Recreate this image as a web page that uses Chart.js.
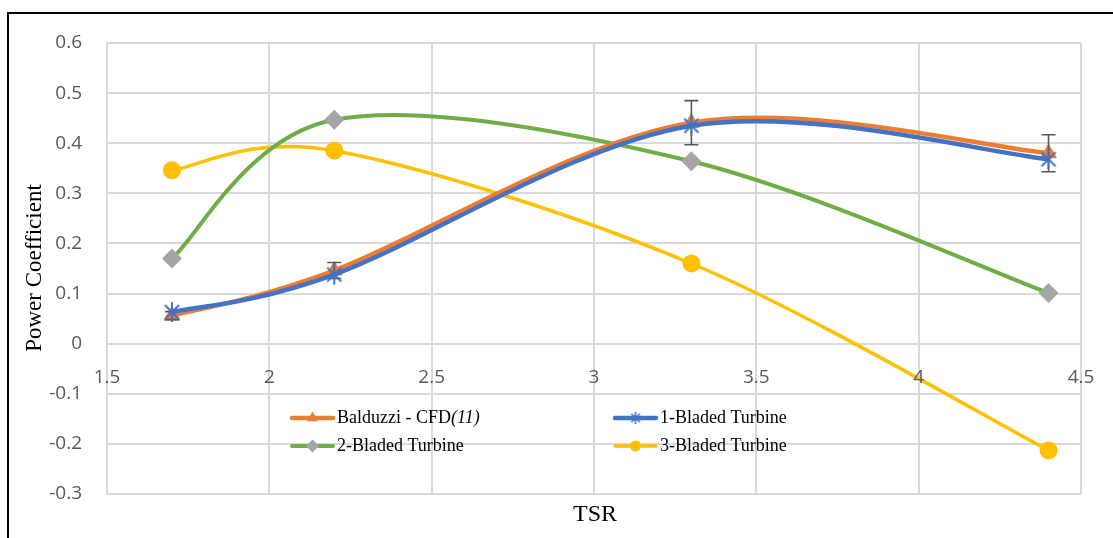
<!DOCTYPE html>
<html>
<head>
<meta charset="utf-8">
<script src="https://cdn.jsdelivr.net/npm/chart.js@4/dist/chart.umd.min.js"></script>
<style>
  html, body { margin: 0; padding: 0; background: #ffffff; }
  #wrap { width: 1113px; height: 538px; position: relative; }
</style>
</head>
<body>
<div id="wrap"><canvas id="c" width="1113" height="538"></canvas></div>
<script>
// Tip speed ratio at which each turbine was evaluated
const tsr = [1.7, 2.2, 3.3, 4.4];

// Power coefficient per series
const balduzziCfd = [0.056, 0.146, 0.441, 0.380];
const oneBladed   = [0.063, 0.138, 0.435, 0.368];
const twoBladed   = [0.170, 0.447, 0.364, 0.101];
const threeBladed = [0.346, 0.385, 0.160, -0.213];

// Symmetric error on the Balduzzi CFD reference values
const balduzziErr = [0.008, 0.016, 0.044, 0.037];

// Axis tick values
const xTicks = [1.5, 2, 2.5, 3, 3.5, 4, 4.5];
const yTicks = [-0.3, -0.2, -0.1, 0, 0.1, 0.2, 0.3, 0.4, 0.5, 0.6];

const seriesLabels = ['Balduzzi - CFD(11)', '1-Bladed Turbine', '2-Bladed Turbine', '3-Bladed Turbine'];
const axisTitleX = 'TSR';
const axisTitleY = 'Power Coefficient';

const COLORS = {
  orange: '#ed7d31',
  blue: '#4472c4',
  green: '#70ad47',
  grey: '#a5a5a5',
  yellow: '#ffc000'
};

// Asterisk marker: vertical stroke crossed by an X
function asteriskImage(color, r, lw) {
  const s = Math.ceil(r * 2 + 4);
  const cv = document.createElement('canvas');
  cv.width = s; cv.height = s;
  const g = cv.getContext('2d');
  const c = s / 2;
  const d = r * Math.SQRT1_2;
  g.strokeStyle = color;
  g.lineWidth = lw;
  g.beginPath();
  g.moveTo(c, c - r); g.lineTo(c, c + r);
  g.moveTo(c - d, c - d); g.lineTo(c + d, c + d);
  g.moveTo(c + d, c - d); g.lineTo(c - d, c + d);
  g.stroke();
  return cv;
}
const starBig = asteriskImage(COLORS.blue, 10, 2);
const starSmall = asteriskImage(COLORS.blue, 6, 1.6);

const pairs = ys => tsr.map((x, i) => ({ x: x, y: ys[i] }));

const datasets = [
  {
    label: seriesLabels[0], data: pairs(balduzziCfd), order: 1,
    borderColor: COLORS.orange, backgroundColor: COLORS.orange, borderWidth: 4.5,
    pointStyle: 'triangle', pointRadius: 9, pointBorderWidth: 1,
    pointBackgroundColor: COLORS.orange, pointBorderColor: COLORS.orange
  },
  {
    label: seriesLabels[1], data: pairs(oneBladed), order: 0,
    borderColor: COLORS.blue, backgroundColor: COLORS.blue, borderWidth: 4.5,
    pointStyle: starBig, pointRadius: 10
  },
  {
    label: seriesLabels[2], data: pairs(twoBladed), order: 2,
    borderColor: COLORS.green, backgroundColor: COLORS.grey, borderWidth: 4,
    pointStyle: 'rectRot', pointRadius: 10, pointBorderWidth: 0,
    pointBackgroundColor: COLORS.grey, pointBorderColor: COLORS.grey
  },
  {
    label: seriesLabels[3], data: pairs(threeBladed), order: 3,
    borderColor: COLORS.yellow, backgroundColor: COLORS.yellow, borderWidth: 3.5,
    pointStyle: 'circle', pointRadius: 9, pointBorderWidth: 0,
    pointBackgroundColor: COLORS.yellow, pointBorderColor: COLORS.yellow
  }
];

// Uniform Catmull-Rom smoothing: each point's bezier handles are one sixth of
// the chord between its neighbours (the library's points are already laid out)
const smoothLines = {
  id: 'smoothLines',
  beforeDatasetDraw(chart, args) {
    const meta = args.meta;
    const line = meta.dataset;
    if (!line || typeof line.updateControlPoints !== 'function') return;
    line.updateControlPoints(chart.chartArea, 'x');
    const pts = meta.data;
    const n = pts.length;
    for (let i = 0; i < n; i++) {
      const p = pts[i];
      const prev = pts[Math.max(i - 1, 0)];
      const next = pts[Math.min(i + 1, n - 1)];
      const dx = (next.x - prev.x) / 6;
      const dy = (next.y - prev.y) / 6;
      p.cp1x = p.x - dx; p.cp1y = p.y - dy;
      p.cp2x = p.x + dx; p.cp2y = p.y + dy;
    }
    line._path = undefined;
  }
};

// Error bars on the CFD reference, drawn right after that series so the
// 1-bladed markers sit on top of them
const errorBars = {
  id: 'errorBars',
  afterDatasetDraw(chart, args) {
    if (args.index !== 0) return;
    const { ctx, scales: { x, y } } = chart;
    ctx.save();
    ctx.strokeStyle = '#595959';
    ctx.lineWidth = 1.6;
    tsr.forEach((t, i) => {
      const px = x.getPixelForValue(t);
      const top = y.getPixelForValue(balduzziCfd[i] + balduzziErr[i]);
      const bot = y.getPixelForValue(balduzziCfd[i] - balduzziErr[i]);
      ctx.beginPath();
      ctx.moveTo(px, top); ctx.lineTo(px, bot);
      ctx.moveTo(px - 7, top); ctx.lineTo(px + 7, top);
      ctx.moveTo(px - 7, bot); ctx.lineTo(px + 7, bot);
      ctx.stroke();
    });
    ctx.restore();
  }
};

// Outer frame, axis titles and the two-column legend inside the plot
const decorations = {
  id: 'decorations',
  beforeDraw(chart) {
    const { ctx } = chart;
    ctx.save();
    ctx.fillStyle = '#ffffff';
    ctx.fillRect(0, 0, chart.width, chart.height);
    ctx.strokeStyle = '#000000';
    ctx.lineWidth = 2;
    ctx.strokeRect(8, 13, 1200, 700);
    ctx.restore();
  },
  afterDraw(chart) {
    const { ctx } = chart;
    ctx.save();
    ctx.fillStyle = '#000000';
    ctx.textAlign = 'center';
    ctx.textBaseline = 'middle';
    ctx.font = '24px "Liberation Serif", "Times New Roman", serif';
    ctx.fillText(axisTitleX, 595, 515);
    ctx.translate(35, 268);
    ctx.rotate(-Math.PI / 2);
    ctx.font = '23px "Liberation Serif", "Times New Roman", serif';
    ctx.fillText(axisTitleY, 0, 0);
    ctx.restore();

    const slots = [
      { x: 290, y: 418 }, { x: 613, y: 418 },
      { x: 290, y: 446 }, { x: 613, y: 446 }
    ];
    chart.data.datasets.forEach((ds, i) => {
      const s = slots[i];
      const cy = s.y;
      ctx.save();
      ctx.strokeStyle = ds.borderColor;
      ctx.lineWidth = ds.borderWidth;
      ctx.lineCap = 'round';
      ctx.beginPath();
      ctx.moveTo(s.x + 2, cy); ctx.lineTo(s.x + 43, cy);
      ctx.stroke();
      const mx = s.x + 22.5;
      ctx.fillStyle = ds.pointBackgroundColor || ds.backgroundColor;
      if (ds.pointStyle === 'triangle') {
        const r = 6.5;
        ctx.beginPath();
        ctx.moveTo(mx, cy - r);
        ctx.lineTo(mx + r * 0.866, cy + r * 0.5);
        ctx.lineTo(mx - r * 0.866, cy + r * 0.5);
        ctx.closePath(); ctx.fill();
      } else if (ds.pointStyle === 'rectRot') {
        const r = 6.5;
        ctx.beginPath();
        ctx.moveTo(mx, cy - r); ctx.lineTo(mx + r, cy);
        ctx.lineTo(mx, cy + r); ctx.lineTo(mx - r, cy);
        ctx.closePath(); ctx.fill();
      } else if (ds.pointStyle === 'circle') {
        ctx.beginPath();
        ctx.arc(mx, cy, 5.5, 0, Math.PI * 2);
        ctx.fill();
      } else {
        ctx.drawImage(starSmall, mx - starSmall.width / 2, cy - starSmall.height / 2);
      }
      ctx.fillStyle = '#000000';
      ctx.textAlign = 'left';
      ctx.textBaseline = 'middle';
      const m = /^(.*?)(\(\d+\))$/.exec(ds.label);
      let tx = s.x + 47;
      ctx.font = '18px "Liberation Serif", "Times New Roman", serif';
      const main = m ? m[1] : ds.label;
      ctx.fillText(main, tx, cy);
      if (m) {
        tx += ctx.measureText(main).width;
        ctx.font = 'italic 18px "Liberation Serif", "Times New Roman", serif';
        ctx.fillText(m[2], tx, cy);
      }
      ctx.restore();
    });
  }
};

const tickFont = { family: '"Open Sans", "Liberation Sans", sans-serif', size: 19 };
const gridColor = '#d9d9d9';

new Chart(document.getElementById('c'), {
  type: 'line',
  data: { datasets: datasets },
  plugins: [smoothLines, errorBars, decorations],
  options: {
    responsive: false,
    animation: false,
    events: [],
    layout: { padding: { left: 0, top: 43, right: 32, bottom: 44 } },
    elements: { line: { tension: 0.4, capBezierPoints: false } },
    plugins: { legend: { display: false }, tooltip: { enabled: false }, title: { display: false } },
    scales: {
      x: {
        type: 'linear',
        position: { y: 0 },
        min: xTicks[0], max: xTicks[xTicks.length - 1],
        afterBuildTicks: s => { s.ticks = xTicks.map(v => ({ value: v })); },
        // the labels hang below the zero line, so they need no side margin
        afterFit: s => { s.paddingLeft = 0; s.paddingRight = 0; },
        ticks: { z: 1, font: tickFont, color: '#595959', padding: 23, maxRotation: 0, callback: v => String(v) },
        grid: { color: gridColor, lineWidth: 2, drawTicks: false },
        border: { color: gridColor, width: 2 }
      },
      y: {
        type: 'linear',
        min: yTicks[0], max: yTicks[yTicks.length - 1],
        afterBuildTicks: s => { s.ticks = yTicks.map(v => ({ value: v })); },
        afterFit: s => { s.width = 107; },
        ticks: { font: tickFont, color: '#595959', padding: 25, callback: v => String(v) },
        grid: { color: gridColor, lineWidth: 2, drawTicks: false },
        border: { color: gridColor, width: 2 }
      }
    }
  }
});
</script>
</body>
</html>
